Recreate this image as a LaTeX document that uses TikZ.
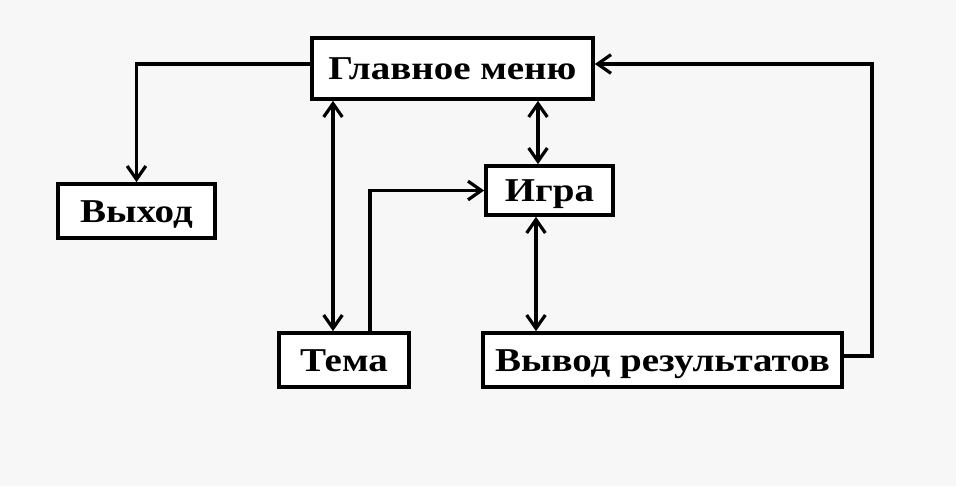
\documentclass[tikz,border=0pt]{standalone}
\usepackage{fontspec}
\setmainfont{Liberation Serif}[FakeStretch=1.17]
\usetikzlibrary{arrows.meta}
\definecolor{bg}{RGB}{247,247,247}
\begin{document}
\begin{tikzpicture}[x=0.75pt,y=-0.75pt,
  box/.style={draw=black, line width=2.8pt, fill=white, inner sep=0pt,
    text height=16.5pt, text depth=0pt,
    font=\fontsize{25}{28}\selectfont\bfseries},
  conn/.style={line width=2.6pt, line join=miter},
  barb/.tip={Straight Barb[length=10pt,width=14pt,line width=2.4pt]},
  tip/.style={-barb},
  dtip/.style={barb-barb}]
\fill[bg] (0,0) rectangle (956,486);
\useasboundingbox (0,0) rectangle (956,486);
\node[box, minimum width=281*0.75pt, minimum height=61*0.75pt] (menu) at (452.5,68.5) {Главное меню};
\node[box, minimum width=157*0.75pt, minimum height=54*0.75pt] (exit) at (136.5,211) {Выход};
\node[box, minimum width=127*0.75pt, minimum height=49*0.75pt] (game) at (549.5,190.5) {Игра};
\node[box, minimum width=130*0.75pt, minimum height=54*0.75pt] (theme) at (344,360) {Тема};
\node[box, minimum width=359*0.75pt, minimum height=54*0.75pt] (result) at (662.5,360) {Вывод результатов};
\coordinate (tx) at (333,0);
\coordinate (ux) at (370,0);
\coordinate (gx) at (538,0);
\coordinate (rx) at (536,0);
\coordinate (rs) at (842,356);
\coordinate (ms) at (593,64);
\coordinate (ex) at (872,0);
\draw[conn, tip] (menu.west |- ms) -| (exit.north);
\draw[conn, dtip] (menu.south -| tx) -- (theme.north -| tx);
\draw[conn, tip] (theme.north -| ux) |- (game.west);
\draw[conn, dtip] (menu.south -| gx) -- (game.north -| gx);
\draw[conn, dtip] (game.south -| rx) -- (result.north -| rx);
\draw[conn, tip] (result.east |- rs) -- (ex |- rs) -- (ex |- ms) -- (menu.east |- ms);
\end{tikzpicture}
\end{document}
